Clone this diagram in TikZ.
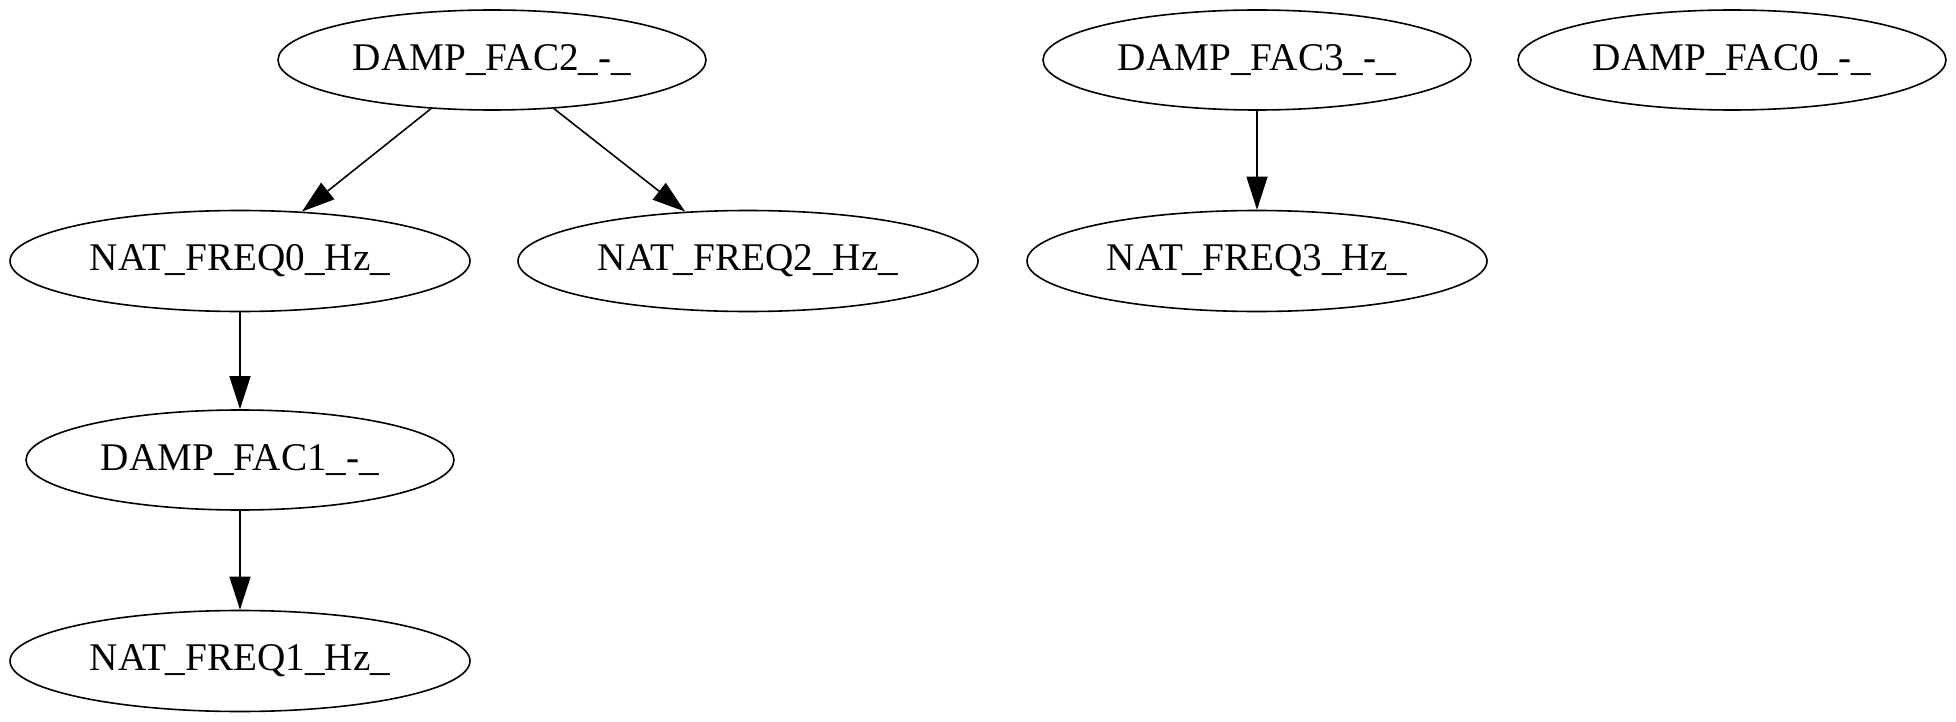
\documentclass[tikz,border=0pt]{standalone}
\usepackage{fontspec}
\setmainfont{Liberation Serif}
\usetikzlibrary{shapes.geometric, arrows.meta}

\begin{document}
\begin{tikzpicture}[
  x=0.5pt, y=-0.5pt,
  every node/.style={font=\fontsize{19.6}{23}\selectfont},
  damp/.style={ellipse, draw, line width=0.8pt, inner sep=0pt,
    minimum width=214pt, minimum height=50pt},
  freq/.style={ellipse, draw, line width=0.8pt, inner sep=0pt,
    minimum width=230pt, minimum height=50.5pt},
  link/.style={line width=0.8pt, -{Triangle[length=16.5pt, width=10.5pt]}}]
  \useasboundingbox (0,0) rectangle (1956,722);
  % Nodes
  \node[damp] (dfac2) at (492,60) {DAMP\_FAC2\_-\_};
  \node[damp] (dfac3) at (1257,60) {DAMP\_FAC3\_-\_};
  \node[damp] (dfac0) at (1732,60) {DAMP\_FAC0\_-\_};
  \node[freq] (nfreq0) at (240,261) {NAT\_FREQ0\_Hz\_};
  \node[freq] (nfreq2) at (748,261) {NAT\_FREQ2\_Hz\_};
  \node[freq] (nfreq3) at (1257,261) {NAT\_FREQ3\_Hz\_};
  \node[damp] (dfac1) at (240,460) {DAMP\_FAC1\_-\_};
  \node[freq] (nfreq1) at (240,661) {NAT\_FREQ1\_Hz\_};
  % Edges
  \draw[link] (dfac2) -- (nfreq0);
  \draw[link] (dfac2) -- (nfreq2);
  \draw[link] (dfac3) -- (nfreq3);
  \draw[link] (nfreq0) -- (dfac1);
  \draw[link] (dfac1) -- (nfreq1);
\end{tikzpicture}
\end{document}
